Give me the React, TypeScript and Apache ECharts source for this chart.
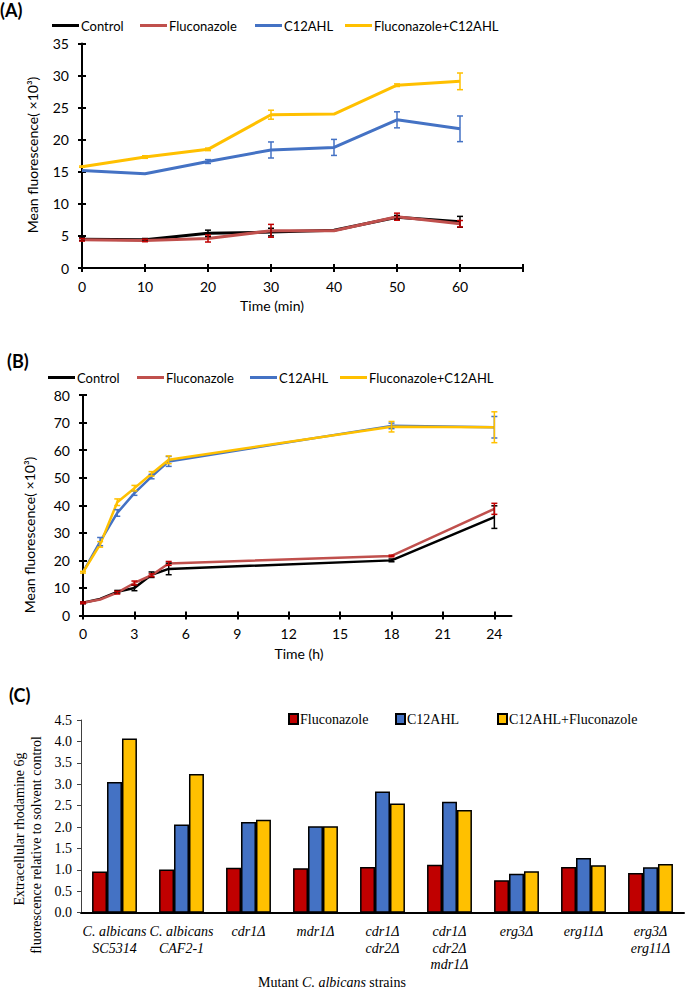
import React, { useEffect, useRef } from 'react';
import * as echarts from 'echarts';

// ---------- Data ----------
const seriesNames = ['Control', 'Fluconazole', 'C12AHL', 'Fluconazole+C12AHL'];
const lineColors = ['#000000', '#C0504D', '#4472C4', '#FFC000'];
const errColors = ['#000000', '#C00000', '#4472C4', '#FFC000'];

// Panel A (time in min)
const timeA = [0, 10, 20, 30, 40, 50, 60];
const controlA = [4.5, 4.4, 5.4, 5.6, 5.9, 7.9, 7.2];
const flucoA = [4.4, 4.3, 4.6, 5.8, 5.8, 8.0, 6.9];
const c12A = [15.2, 14.7, 16.6, 18.4, 18.8, 23.1, 21.7];
const comboA = [15.8, 17.3, 18.5, 23.9, 24.0, 28.5, 29.1];
const controlErrA = [0.2, 0.2, 0.5, 0.6, 0, 0.3, 0.85];
const flucoErrA = [0.2, 0.2, 0.55, 1.0, 0, 0.55, 0.5];
const c12ErrA = [0, 0, 0.3, 1.25, 1.25, 1.25, 2.0];
const comboErrA = [0.1, 0.2, 0.2, 0.7, 0, 0.2, 1.3];

// Panel B (time in h)
const timeB = [0, 1, 2, 3, 4, 5, 18, 24];
const tickLabelsB = [0, 3, 6, 9, 12, 15, 18, 21, 24];
const controlB = [4.6, 6.0, 8.6, 10.0, 14.8, 16.9, 20.0, 35.7];
const flucoB = [4.6, 5.8, 8.3, 11.8, 14.6, 18.9, 21.6, 38.7];
const c12B = [15.7, 26.8, 37.2, 44.4, 50.4, 55.9, 68.8, 68.3];
const comboB = [15.7, 25.8, 41.1, 46.2, 51.4, 56.5, 68.5, 68.3];
const controlErrB = [0.3, 0, 0.5, 1.0, 1.0, 2.1, 0.5, 4.1];
const flucoErrB = [0.3, 0, 0.5, 0.7, 0.5, 0.7, 0.3, 2.0];
const c12ErrB = [0, 1.5, 1.2, 0.8, 0.8, 1.8, 1.0, 3.9];
const comboErrB = [0.3, 1.0, 1.2, 1.0, 0.8, 1.4, 1.9, 5.6];

// Panel C
const strains = [
  'C. albicans\nSC5314',
  'C. albicans\nCAF2-1',
  'cdr1Δ',
  'mdr1Δ',
  'cdr1Δ\ncdr2Δ',
  'cdr1Δ\ncdr2Δ\nmdr1Δ',
  'erg3Δ',
  'erg11Δ',
  'erg3Δ\nerg11Δ',
];
const barNames = ['Fluconazole', 'C12AHL', 'C12AHL+Fluconazole'];
const barColors = ['#C00000', '#4472C4', '#FFC000'];
const flucoC = [0.96, 1.01, 1.05, 1.04, 1.07, 1.12, 0.76, 1.07, 0.93];
const c12C = [3.05, 2.06, 2.12, 2.02, 2.83, 2.59, 0.91, 1.28, 1.06];
const comboC = [4.07, 3.24, 2.17, 2.02, 2.55, 2.40, 0.97, 1.11, 1.14];

const SANS = 'Lato';
const SERIF = 'Liberation Serif';

function errRender(color: string) {
  return (params: any, api: any) => {
    const x = api.value(0);
    const lo = api.value(1);
    const hi = api.value(2);
    const top = api.coord([x, hi]);
    const bot = api.coord([x, lo]);
    const w = 3;
    const style = { stroke: color, lineWidth: 1.5 };
    return {
      type: 'group',
      children: [
        { type: 'line', shape: { x1: top[0], y1: top[1], x2: bot[0], y2: bot[1] }, style },
        { type: 'line', shape: { x1: top[0] - w, y1: top[1], x2: top[0] + w, y2: top[1] }, style },
        { type: 'line', shape: { x1: bot[0] - w, y1: bot[1], x2: bot[0] + w, y2: bot[1] }, style },
      ],
    };
  };
}

function lineSeries(name: string, xs: number[], ys: number[], color: string, axis: number, width: number) {
  return {
    type: 'line',
    name,
    xAxisIndex: axis,
    yAxisIndex: axis,
    data: xs.map((x, i) => [x, ys[i]]),
    showSymbol: false,
    symbol: 'none',
    lineStyle: { color, width },
    itemStyle: { color },
    z: 3,
  };
}

function errSeries(xs: number[], ys: number[], errs: number[], color: string, axis: number) {
  const data: number[][] = [];
  xs.forEach((x, i) => {
    if (errs[i] > 0) data.push([x, ys[i] - errs[i], ys[i] + errs[i]]);
  });
  return {
    type: 'custom',
    xAxisIndex: axis,
    yAxisIndex: axis,
    renderItem: errRender(color),
    encode: { x: 0, y: [1, 2] },
    data,
    z: 4,
    silent: true,
  };
}

const axisLineBlack = { show: true, lineStyle: { color: '#000', width: 2 } };
const sansLabel = { fontFamily: SANS, fontSize: 14, color: '#000' };

function mainValueAxis(grid: number, min: number, max: number, interval: number, extra: any = {}) {
  return {
    type: 'value',
    gridIndex: grid,
    min,
    max,
    interval,
    axisLine: axisLineBlack,
    axisTick: { show: true, inside: false, length: 4, lineStyle: { color: '#000', width: 2 } },
    splitLine: { show: false },
    ...extra,
  };
}
function innerValueAxis(grid: number, min: number, max: number, interval: number, position: string, extra: any = {}) {
  return {
    type: 'value',
    gridIndex: grid,
    position,
    min,
    max,
    interval,
    axisLine: { show: false },
    axisTick: { show: true, inside: true, length: 4, lineStyle: { color: '#000', width: 2 }, ...(extra.axisTick || {}) },
    axisLabel: { show: false },
    splitLine: { show: false },
  };
}

export default function App() {
  const ref = useRef<HTMLDivElement>(null);
  useEffect(() => {
    if (!ref.current) return;
    const chart = echarts.init(ref.current, undefined, { renderer: 'svg' });

    const linesA = [controlA, flucoA, c12A, comboA];
    const errsA = [controlErrA, flucoErrA, c12ErrA, comboErrA];
    const linesB = [controlB, flucoB, c12B, comboB];
    const errsB = [controlErrB, flucoErrB, c12ErrB, comboErrB];
    const barsC = [flucoC, c12C, comboC];

    const series: any[] = [];
    seriesNames.forEach((n, i) => {
      series.push(lineSeries(n, timeA, linesA[i], lineColors[i], 0, 3));
    });
    seriesNames.forEach((n, i) => {
      series.push(errSeries(timeA, linesA[i], errsA[i], errColors[i], 0));
    });
    seriesNames.forEach((n, i) => {
      series.push(lineSeries(n, timeB, linesB[i], lineColors[i], 2, 2.5));
    });
    seriesNames.forEach((n, i) => {
      series.push(errSeries(timeB, linesB[i], errsB[i], errColors[i], 2));
    });
    barNames.forEach((n, i) => {
      series.push({
        type: 'bar',
        name: 'bar_' + n,
        xAxisIndex: 4,
        yAxisIndex: 4,
        data: barsC[i],
        barGap: '0%',
        barCategoryGap: '33%',
        itemStyle: { color: barColors[i], borderColor: '#000', borderWidth: 1.5 },
      });
    });

    const legendA = [52, 140, 255, 345];
    const legendB = [48, 137, 250, 340];
    const legendC = [288, 395, 497];
    const legends: any[] = [];
    seriesNames.forEach((n, i) => {
      legends.push({
        data: [n], left: legendA[i], top: 19, padding: 0, icon: 'rect', itemWidth: 27, itemHeight: 3,
        textStyle: { fontFamily: SANS, fontSize: 13, color: '#000', padding: [0, 0, 0, -3] }, selectedMode: false,
      });
      legends.push({
        data: [n], left: legendB[i], top: 371, padding: 0, icon: 'rect', itemWidth: 27, itemHeight: 3,
        textStyle: { fontFamily: SANS, fontSize: 13, color: '#000', padding: [0, 0, 0, -3] }, selectedMode: false,
      });
    });
    barNames.forEach((n, i) => {
      legends.push({
        data: ['bar_' + n], left: legendC[i], top: 712, padding: 0, icon: 'rect', itemWidth: 9, itemHeight: 10,
        formatter: (name: string) => name.replace('bar_', ''),
        textStyle: { fontFamily: SERIF, fontSize: 14, color: '#000', padding: [0, 0, 0, -3] }, selectedMode: false,
      });
    });

    const option: any = {
      animation: false,
      backgroundColor: '#fff',
      grid: [
        { left: 82, top: 43.5, width: 441, height: 224.5 },
        { left: 83, top: 395, width: 428.5, height: 220.5 },
        { left: 81, top: 720, width: 603, height: 192.7 },
      ],
      legend: legends,
      xAxis: [
        mainValueAxis(0, 0, 70, 10, {
          axisLabel: { ...sansLabel, margin: 11, formatter: (v: number) => (v > 60 ? '' : String(v)) },
        }),
        innerValueAxis(0, 0, 70, 10, 'bottom'),
        mainValueAxis(1, 0, 25, 3, {
          axisTick: { show: true, inside: false, length: 4, lineStyle: { color: '#000', width: 2 }, customValues: tickLabelsB },
          axisLabel: { ...sansLabel, margin: 11, customValues: tickLabelsB },
        }),
        {
          ...innerValueAxis(1, 0, 25, 3, 'bottom'),
          axisTick: { show: true, inside: true, length: 4, lineStyle: { color: '#000', width: 2 }, customValues: tickLabelsB },
        },
        {
          type: 'category',
          gridIndex: 2,
          data: strains,
          axisLine: axisLineBlack,
          axisTick: { show: false },
          axisLabel: {
            interval: 0, fontFamily: SERIF, fontStyle: 'italic', fontSize: 14, color: '#000',
            lineHeight: 16.5, margin: 11,
          },
          splitLine: { show: false },
        },
      ],
      yAxis: [
        mainValueAxis(0, 0, 35, 5, { axisLabel: { ...sansLabel, margin: 13 } }),
        innerValueAxis(0, 0, 35, 5, 'left'),
        mainValueAxis(1, 0, 80, 10, { axisLabel: { ...sansLabel, margin: 13 } }),
        innerValueAxis(1, 0, 80, 10, 'left'),
        {
          type: 'value',
          gridIndex: 2,
          min: 0,
          max: 4.5,
          interval: 0.5,
          axisLine: { show: true, lineStyle: { color: '#404040', width: 1 } },
          axisTick: { show: true, length: 4, lineStyle: { color: '#404040', width: 1 } },
          axisLabel: { fontFamily: SERIF, fontSize: 14, color: '#000', margin: 9, formatter: (v: number) => v.toFixed(1) },
          splitLine: { show: false },
        },
      ],
      series,
      graphic: [
        { type: 'text', left: 0, top: 1, style: { text: '(A)', font: 'bold 18px Lato', fill: '#000' } },
        { type: 'text', left: 7, top: 352, style: { text: '(B)', font: 'bold 18px Lato', fill: '#000' } },
        { type: 'text', left: 9, top: 686, style: { text: '(C)', font: 'bold 18px Lato', fill: '#000' } },
        {
          type: 'text', x: 32, y: 155, rotation: Math.PI / 2,
          style: { text: 'Mean fluorescence( ×10³)', font: '14px Lato', fill: '#000', textAlign: 'center', textVerticalAlign: 'middle' },
        },
        {
          type: 'text', x: 29, y: 535, rotation: Math.PI / 2,
          style: { text: 'Mean fluorescence( ×10³)', font: '14px Lato', fill: '#000', textAlign: 'center', textVerticalAlign: 'middle' },
        },
        {
          type: 'text', x: 272, y: 305,
          style: { text: 'Time (min)', font: '14px Lato', fill: '#000', textAlign: 'center', textVerticalAlign: 'middle' },
        },
        {
          type: 'text', x: 299, y: 653,
          style: { text: 'Time (h)', font: '14px Lato', fill: '#000', textAlign: 'center', textVerticalAlign: 'middle' },
        },
        {
          type: 'text', x: 19, y: 829, rotation: Math.PI / 2,
          style: { text: 'Extracellular rhodamine 6g', font: '14px "Liberation Serif"', fill: '#000', textAlign: 'center', textVerticalAlign: 'middle' },
        },
        {
          type: 'text', x: 36, y: 845, rotation: Math.PI / 2,
          style: { text: 'fluorescence relative to solvent control', font: '14px "Liberation Serif"', fill: '#000', textAlign: 'center', textVerticalAlign: 'middle' },
        },
        {
          type: 'text', x: 332, y: 982,
          style: {
            text: '{n|Mutant }{i|C. albicans}{n| strains}',
            textAlign: 'center', textVerticalAlign: 'middle',
            rich: {
              n: { fontFamily: SERIF, fontSize: 14, fill: '#000' },
              i: { fontFamily: SERIF, fontSize: 14, fontStyle: 'italic', fill: '#000' },
            },
          },
        },
      ],
    };
    chart.setOption(option);
    return () => chart.dispose();
  }, []);
  return <div ref={ref} style={{ position: 'absolute', left: 0, top: 0, width: 685, height: 988 }} />;
}
